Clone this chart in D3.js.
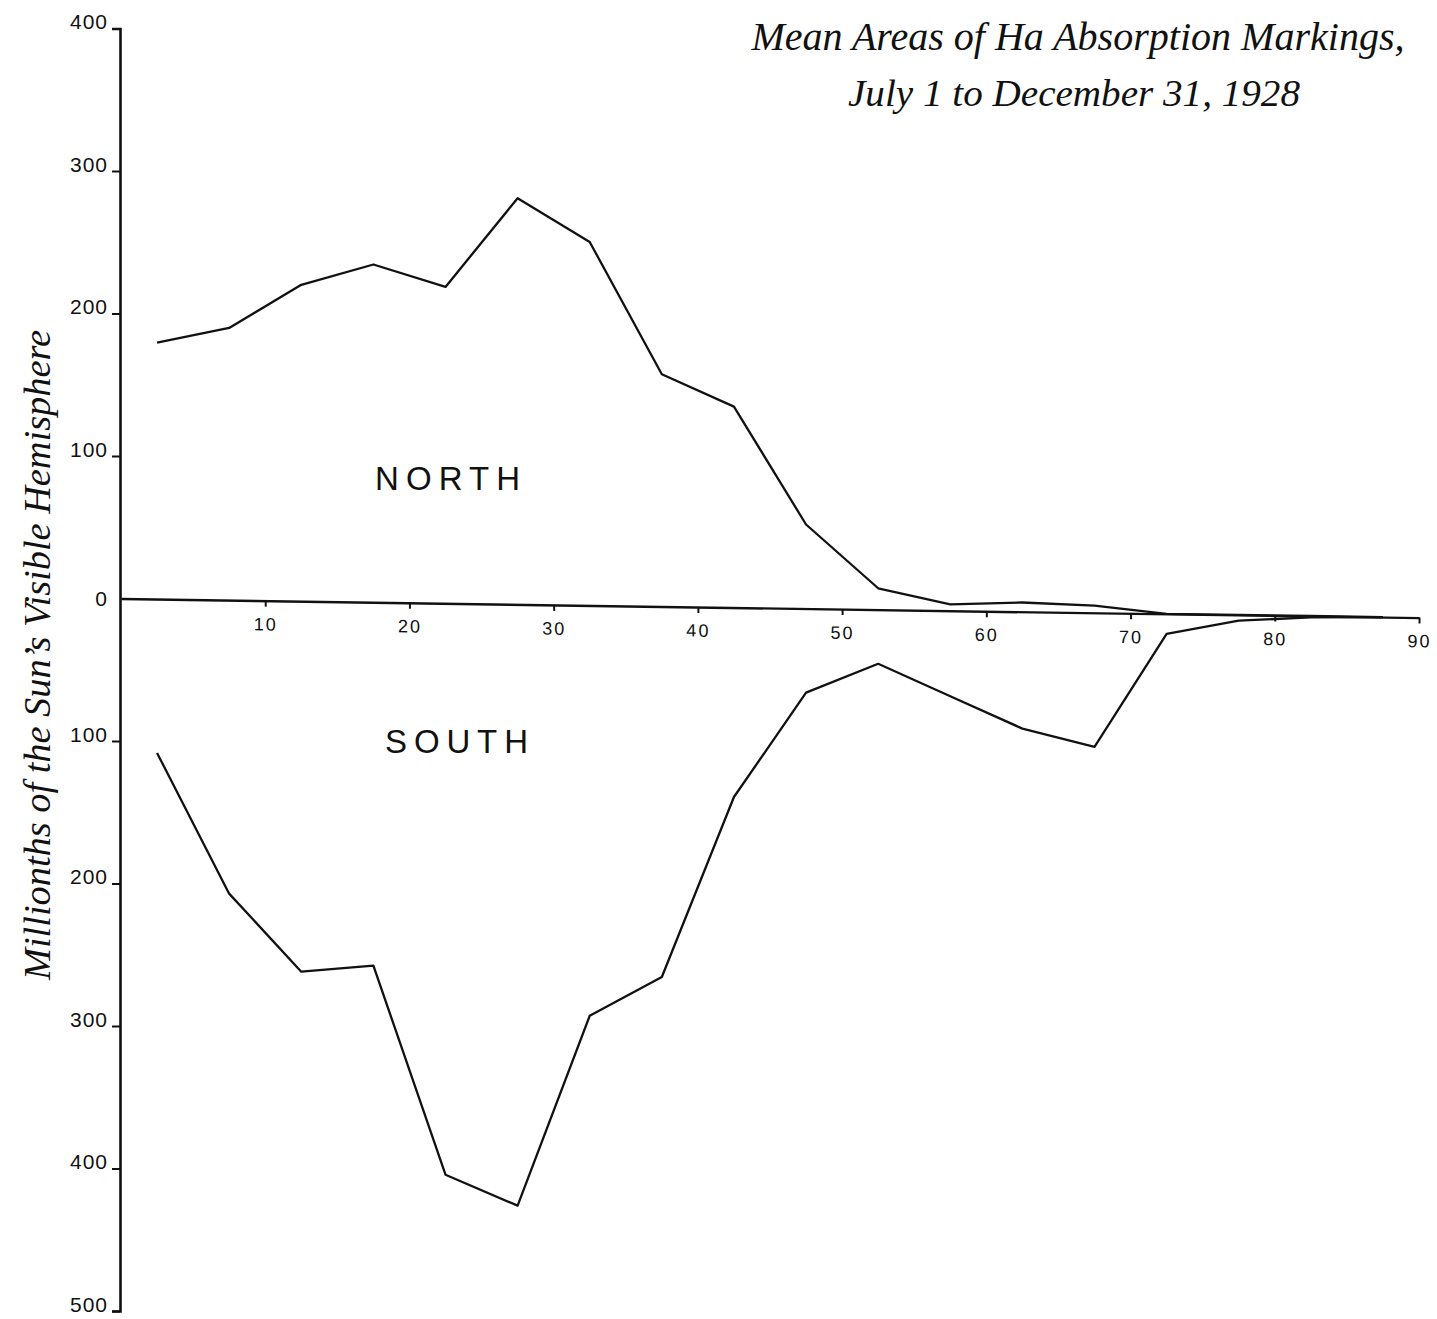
<!DOCTYPE html>
<html><head><meta charset="utf-8">
<script src="https://cdn.jsdelivr.net/npm/d3@7"></script>
<style>body{margin:0;background:#fff} svg{display:block}</style>
</head><body>
<svg id="c" width="1437" height="1319"></svg>
<script>
// Latitude zone midpoints (degrees)
const latitudes = [2.5, 7.5, 12.5, 17.5, 22.5, 27.5, 32.5, 37.5, 42.5, 47.5, 52.5, 57.5, 62.5, 67.5, 72.5, 77.5, 82.5, 87.5];
// Mean areas, millionths of the visible hemisphere
const northAreas = [180, 191, 222, 237, 222, 285, 255, 163, 141, 59, 15, 4.5, 6.5, 5, 0, 0, 0, 0];
const southAreas = [-108, -206, -260, -255, -401, -422, -288, -260, -133, -59, -38, -60, -82, -94, -14, -4, -1, 0];
const xTickValues = [10, 20, 30, 40, 50, 60, 70, 80, 90];
const yTickValues = [-500, -400, -300, -200, -100, 0, 100, 200, 300, 400];
const titleLines = ["Mean Areas of Ha Absorption Markings,", "July 1 to December 31, 1928"];
const yAxisTitle = "Millionths of the Sun\u2019s Visible Hemisphere";
const hemisphereLabels = ["NORTH", "SOUTH"];

const ink = "#111";
const svg = d3.select("#c");
svg.append("rect").attr("width", 1437).attr("height", 1319).attr("fill", "#fff");

const x = d3.scaleLinear().domain([0, 90]).range([121, 1419]);
const y = d3.scaleLinear().domain([-500, 400]).range([1311, 28.5]);

// hand-drawn horizontal axis is slightly tilted
const tilt = 0.0147;
const plot = svg.append("g").attr("transform", `matrix(1,${tilt},0,1,0,${-121 * tilt})`);

// X axis (zero line)
const xAxis = plot.append("g")
  .attr("transform", `translate(0,${y(0)})`)
  .call(d3.axisBottom(x).tickValues(xTickValues).tickSize(6).tickSizeOuter(0).tickPadding(11));
xAxis.select(".domain").attr("stroke", ink).attr("stroke-width", 2.4);
xAxis.selectAll(".tick line").attr("stroke", ink).attr("stroke-width", 2);
xAxis.selectAll(".tick text")
  .attr("fill", ink)
  .style("font-family", "'Liberation Sans', 'DejaVu Sans', sans-serif")
  .style("font-size", "18px")
  .style("letter-spacing", "2px");

// Data lines
const line = d3.line().x((d, i) => x(latitudes[i])).y(d => y(d));
plot.append("path").datum(northAreas).attr("d", line)
  .attr("fill", "none").attr("stroke", ink).attr("stroke-width", 2.3).attr("stroke-linejoin", "round");
plot.append("path").datum(southAreas).attr("d", line)
  .attr("fill", "none").attr("stroke", ink).attr("stroke-width", 2.3).attr("stroke-linejoin", "round");

// Y axis
const yAxis = svg.append("g")
  .attr("transform", "translate(120,0)")
  .call(d3.axisLeft(y).tickValues(yTickValues).tickSize(8).tickSizeOuter(8).tickPadding(4)
    .tickFormat(d => Math.abs(d)));
yAxis.select(".domain").attr("stroke", ink).attr("stroke-width", 2.6);
yAxis.selectAll(".tick line").attr("stroke", ink).attr("stroke-width", 2);
yAxis.selectAll(".tick text")
  .attr("fill", ink)
  .attr("dy", d => d === 0 ? "0.35em" : "0.02em")
  .style("font-family", "'Liberation Sans', 'DejaVu Sans', sans-serif")
  .style("font-size", "21px")
  .style("letter-spacing", "1px");
yAxis.selectAll(".tick").filter(d => d === 0).select("line").remove();
yAxis.selectAll(".tick").filter(d => d === 0).select("text").attr("x", -12);

// Title
const titleFont = "'Liberation Serif', 'DejaVu Serif', serif";
svg.append("text").text(titleLines[0])
  .attr("x", 1078).attr("y", 50).attr("text-anchor", "middle")
  .attr("textLength", 653).attr("lengthAdjust", "spacingAndGlyphs")
  .style("font-family", titleFont).style("font-style", "italic").style("font-size", "40px").attr("fill", ink);
svg.append("text").text(titleLines[1])
  .attr("x", 1074).attr("y", 106).attr("text-anchor", "middle")
  .attr("textLength", 452).attr("lengthAdjust", "spacingAndGlyphs")
  .style("font-family", titleFont).style("font-style", "italic").style("font-size", "37px").attr("fill", ink);

// Y axis title
svg.append("text").text(yAxisTitle)
  .attr("transform", "translate(50,655) rotate(-90)")
  .attr("text-anchor", "middle")
  .attr("textLength", 650).attr("lengthAdjust", "spacingAndGlyphs")
  .style("font-family", titleFont).style("font-style", "italic").style("font-size", "38px").attr("fill", ink);

// Hemisphere labels
const labelFont = "'Liberation Sans', 'DejaVu Sans', sans-serif";
svg.append("text").text(hemisphereLabels[0])
  .attr("x", 375).attr("y", 490).attr("textLength", 145).attr("lengthAdjust", "spacing")
  .style("font-family", labelFont).style("font-size", "33px").attr("fill", ink);
svg.append("text").text(hemisphereLabels[1])
  .attr("x", 385).attr("y", 753).attr("textLength", 143).attr("lengthAdjust", "spacing")
  .style("font-family", labelFont).style("font-size", "33px").attr("fill", ink);
</script>
</body></html>
